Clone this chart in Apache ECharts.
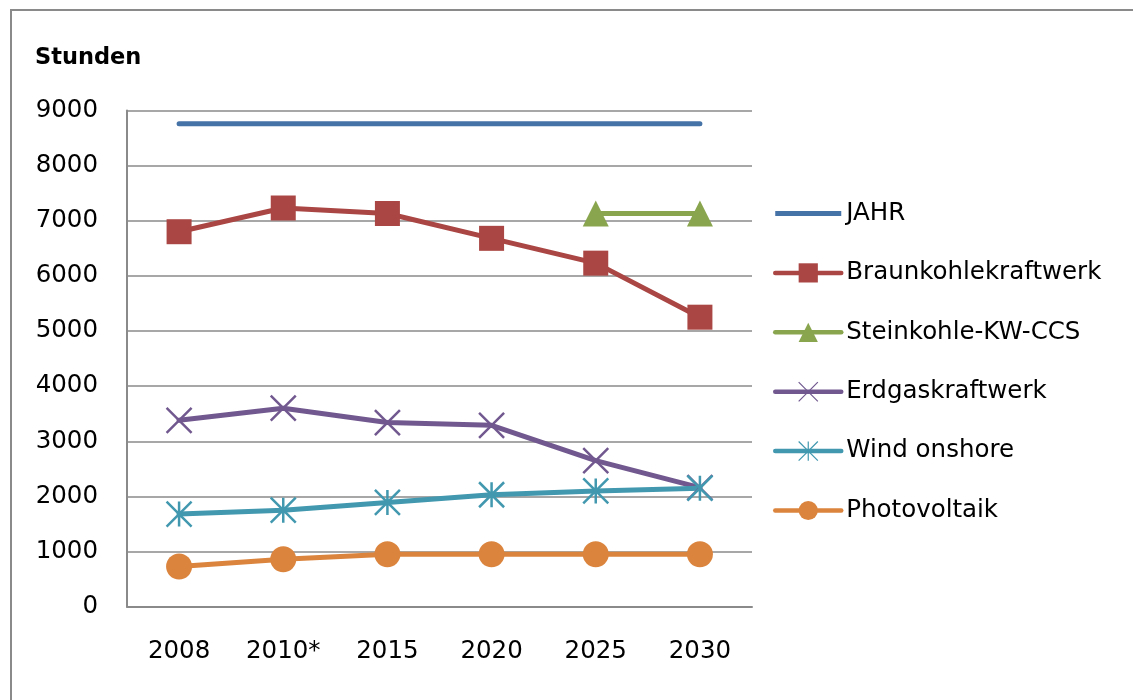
<!DOCTYPE html>
<html>
<head>
<meta charset="utf-8">
<script src="https://cdn.jsdelivr.net/npm/echarts@6/dist/echarts.min.js"></script>
<style>
  html, body { margin: 0; padding: 0; background: #fff; }
  #chart { width: 1133px; height: 700px; }
</style>
</head>
<body>
<div id="chart"></div>
<script>
// Volllaststunden je Kraftwerkstyp
const years = ['2008', '2010*', '2015', '2020', '2025', '2030'];
const yTicks = { min: 0, max: 9000, step: 1000 };

const jahr = [8760, 8760, 8760, 8760, 8760, 8760];
const braunkohle = [6800, 7230, 7130, 6680, 6230, 5250];
const steinkohleCCS = ['-', '-', '-', '-', 7130, 7130];
const erdgas = [3380, 3600, 3340, 3290, 2650, 2160];
const windOnshore = [1680, 1750, 1890, 2030, 2100, 2150];
const photovoltaik = [730, 860, 950, 950, 950, 950];

const FONT = 'DejaVu Sans';
const crossPath = 'path://M0,0 L20,20 M20,0 L0,20';
const starPath = 'path://M0,0 L20,20 M20,0 L0,20 M10,0 L10,20';

function lineSeries(name, data, color, symbol, size, extra) {
  return Object.assign({
    name: name,
    type: 'line',
    data: data,
    symbol: symbol,
    symbolSize: size,
    showSymbol: symbol !== 'none',
    lineStyle: { color: color, width: 5, cap: 'round' },
    itemStyle: { color: color },
    emphasis: { disabled: true },
    animation: false
  }, extra || {});
}

const chart = echarts.init(document.getElementById('chart'), null, { renderer: 'canvas' });
chart.setOption({
  backgroundColor: '#ffffff',
  animation: false,
  title: {
    text: 'Stunden',
    left: 35,
    top: 46,
    padding: 0,
    textStyle: { fontFamily: FONT, fontSize: 22.5, fontWeight: 'bold', color: '#000', lineHeight: 24 }
  },
  graphic: [{
    type: 'rect',
    shape: { x: 11, y: 10, width: 1200, height: 800 },
    style: { fill: 'none', stroke: '#8a8a8a', lineWidth: 2 },
    silent: true
  }],
  grid: {
    left: 127, right: 381, top: 110.4, bottom: 93.3,
    outerBoundsMode: 'none'
  },
  legend: {
    orient: 'vertical',
    left: 773,
    top: 201,
    padding: 0,
    itemWidth: 66,
    itemHeight: 24,
    itemGap: 34.4,
    selectedMode: false,
    lineStyle: { width: 4.5, cap: 'round' },
    textStyle: { fontFamily: FONT, fontSize: 24.5, color: '#000', lineHeight: 24 },
    data: [
      { name: 'JAHR', icon: 'path://M0,0 L66,0 L66,5 L0,5 Z' },
      'Braunkohlekraftwerk',
      'Steinkohle-KW-CCS',
      { name: 'Erdgaskraftwerk', itemStyle: { borderWidth: 1.2 } },
      { name: 'Wind onshore', itemStyle: { borderWidth: 1.2 } },
      'Photovoltaik'
    ]
  },
  xAxis: {
    type: 'category',
    data: years,
    boundaryGap: true,
    axisLine: { lineStyle: { color: '#8a8a8a', width: 2 } },
    axisTick: { show: false },
    axisLabel: { fontFamily: FONT, fontSize: 24.5, color: '#000', margin: 32 }
  },
  yAxis: {
    type: 'value',
    min: yTicks.min,
    max: yTicks.max,
    interval: yTicks.step,
    axisLine: { show: true, lineStyle: { color: '#8a8a8a', width: 2 } },
    axisTick: { show: false },
    splitLine: { lineStyle: { color: '#8a8a8a', width: 1.5 } },
    axisLabel: {
      fontFamily: FONT, fontSize: 24.5, color: '#000', margin: 29,
      formatter: function (v) { return String(v); }
    }
  },
  series: [
    lineSeries('JAHR', jahr, '#4572A7', 'none', 0),
    lineSeries('Braunkohlekraftwerk', braunkohle, '#AA4643', 'rect', 25),
    lineSeries('Steinkohle-KW-CCS', steinkohleCCS, '#89A54E', 'triangle', 26),
    lineSeries('Erdgaskraftwerk', erdgas, '#71588F', crossPath, 25, {
      itemStyle: { color: '#71588F', borderColor: '#71588F', borderWidth: 2.5 }
    }),
    lineSeries('Wind onshore', windOnshore, '#4198AF', starPath, 25, {
      itemStyle: { color: '#4198AF', borderColor: '#4198AF', borderWidth: 2.5 }
    }),
    lineSeries('Photovoltaik', photovoltaik, '#DB843D', 'circle', 26)
  ]
});
</script>
</body>
</html>
